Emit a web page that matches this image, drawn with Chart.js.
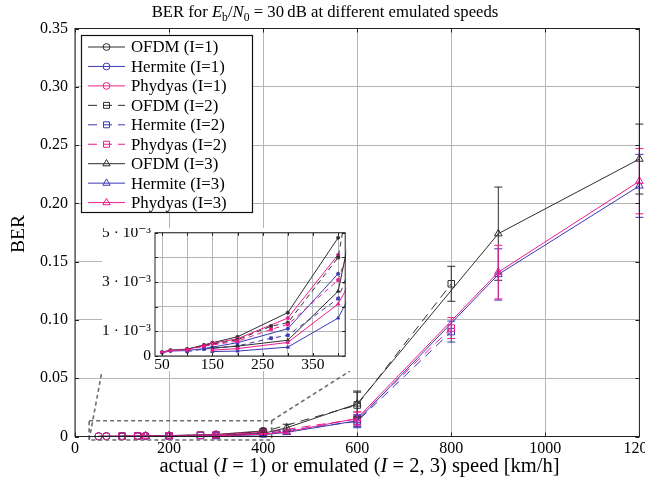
<!DOCTYPE html>
<html><head><meta charset="utf-8">
<script src="https://cdn.jsdelivr.net/npm/chart.js@4.4.0/dist/chart.umd.min.js"></script>
<style>
html,body{margin:0;padding:0;background:#fff;}
#wrap{position:relative;width:645px;height:485px;overflow:hidden;font-family:"Liberation Serif","DejaVu Serif",serif;color:#000;background:#fff;}
#main{position:absolute;left:0;top:0;}
#title{position:absolute;left:0;width:650px;top:2px;text-align:center;font-size:16.7px;white-space:nowrap;}
#xlabel{position:absolute;left:75px;width:569px;top:454px;text-align:center;font-size:20.5px;white-space:nowrap;}
#ylabel{position:absolute;left:18px;top:234px;transform:translate(-50%,-50%) rotate(-90deg);font-size:19.5px;white-space:nowrap;}
#insetBox{position:absolute;left:102px;top:228px;width:248px;height:143px;background:#fff;}
#inset{position:absolute;left:0;top:0;}
sub{font-size:70%;vertical-align:-0.3em;line-height:0;}
</style></head>
<body>
<div id="wrap">
  <canvas id="main" width="645" height="485"></canvas>
  <div id="title">BER for <i>E</i><sub>b</sub>/<i>N</i><sub>0</sub> = 30&#8201;dB at different emulated speeds</div>
  <div id="ylabel">BER</div>
  <div id="xlabel">actual (<i>I</i> = 1) or emulated (<i>I</i> = 2, 3) speed [km/h]</div>
  <div id="insetBox"><canvas id="inset" width="248" height="143"></canvas></div>
</div>
<script>
// ---------------- data ----------------
const speedI1 = [50, 66.7, 100, 133.3, 150, 200, 300, 400];
const speedI2 = [100, 133.3, 200, 266.7, 300, 400, 600, 800];
const speedI3 = [150, 200, 300, 400, 450, 600, 900, 1200];

const berOfdmI1    = [0.00016, 0.00024, 0.00028, 0.00045, 0.00054, 0.00078, 0.00176, 0.00480];
const berHermiteI1 = [0.00013, 0.00020, 0.00022, 0.00030, 0.00036, 0.00054, 0.00111, 0.00334];
const berPhydyasI1 = [0.00015, 0.00022, 0.00026, 0.00043, 0.00051, 0.00070, 0.00154, 0.00411];

const berOfdmI2    = [0.00027, 0.00042, 0.00066, 0.00121, 0.00135, 0.00400, 0.0270, 0.1310];
const berHermiteI2 = [0.00018, 0.00028, 0.00041, 0.00072, 0.00084, 0.00233, 0.0130, 0.0900];
const berPhydyasI2 = [0.00025, 0.00040, 0.00060, 0.00108, 0.00128, 0.00308, 0.0150, 0.0930];

const berOfdmI3    = [0.00032, 0.00040, 0.00064, 0.00263, 0.0075, 0.0280, 0.1740, 0.2380];
const berHermiteI3 = [0.00018, 0.00020, 0.00036, 0.00154, 0.0035, 0.0135, 0.1390, 0.2150];
const berPhydyasI3 = [0.00024, 0.00030, 0.00055, 0.00211, 0.0040, 0.0155, 0.1410, 0.2190];

// symmetric error-bar half widths (BER)
const errOfdmI1    = [0, 0, 0, 0, 0, 0, 0, 0.0006];
const errHermiteI1 = [0, 0, 0, 0, 0, 0, 0, 0.0005];
const errPhydyasI1 = [0, 0, 0, 0, 0, 0, 0, 0.0005];
const errOfdmI2    = [0, 0, 0, 0, 0, 0.0006, 0.0110, 0.0150];
const errHermiteI2 = [0, 0, 0, 0, 0, 0.0005, 0.0055, 0.0090];
const errPhydyasI2 = [0, 0, 0, 0, 0, 0.0005, 0.0060, 0.0090];
const errOfdmI3    = [0, 0, 0, 0.0005, 0.0030, 0.0110, 0.0400, 0.0300];
const errHermiteI3 = [0, 0, 0, 0.0004, 0.0015, 0.0050, 0.0220, 0.0270];
const errPhydyasI3 = [0, 0, 0, 0.0004, 0.0015, 0.0055, 0.0230, 0.0280];

const seriesLabels = ['OFDM (I=1)','Hermite (I=1)','Phydyas (I=1)',
                      'OFDM (I=2)','Hermite (I=2)','Phydyas (I=2)',
                      'OFDM (I=3)','Hermite (I=3)','Phydyas (I=3)'];

const mainXTicks = [0, 200, 400, 600, 800, 1000, 1200];
const mainYTicks = [0, 0.05, 0.10, 0.15, 0.20, 0.25, 0.30, 0.35];
const insetXTicks = [50, 100, 150, 200, 250, 300, 350, 400];
const insetXLabeled = [50, 150, 250, 350];
const insetYTicks = [0, 0.001, 0.002, 0.003, 0.004, 0.005];
const insetYLabels = {0: '0', 0.001: '1 \u00b7 10\u207b\u00b3', 0.003: '3 \u00b7 10\u207b\u00b3', 0.005: '5 \u00b7 10\u207b\u00b3'};

// zoom window on main axes (data coords)
const zoomBoxX = [30, 418];
const zoomBoxY = [-0.003, 0.0135];

// ---------------- styles ----------------
const FONT = '"Liberation Serif", "DejaVu Serif", serif';
const C_OFDM = '#2e2e2e', C_HERM = '#3a3ab2', C_PHY = '#ee1c8c';
const GRID = '#b5b5b5';

const defs = [
  {x: speedI1, y: berOfdmI1,    e: errOfdmI1,    c: C_OFDM, p: 'circle',   d: false},
  {x: speedI1, y: berHermiteI1, e: errHermiteI1, c: C_HERM, p: 'circle',   d: false},
  {x: speedI1, y: berPhydyasI1, e: errPhydyasI1, c: C_PHY,  p: 'circle',   d: false},
  {x: speedI2, y: berOfdmI2,    e: errOfdmI2,    c: C_OFDM, p: 'rect',     d: true},
  {x: speedI2, y: berHermiteI2, e: errHermiteI2, c: C_HERM, p: 'rect',     d: true},
  {x: speedI2, y: berPhydyasI2, e: errPhydyasI2, c: C_PHY,  p: 'rect',     d: true},
  {x: speedI3, y: berOfdmI3,    e: errOfdmI3,    c: C_OFDM, p: 'triangle', d: false},
  {x: speedI3, y: berHermiteI3, e: errHermiteI3, c: C_HERM, p: 'triangle', d: false},
  {x: speedI3, y: berPhydyasI3, e: errPhydyasI3, c: C_PHY,  p: 'triangle', d: false},
];

function radiusFor(p, inset) {
  if (inset) return p === 'circle' ? 1.6 : 2.0;
  return p === 'circle' ? 3.6 : (p === 'rect' ? 4.6 : 4.4);
}

function makeDatasets(inset) {
  return defs.map((d, i) => ({
    label: seriesLabels[i],
    data: d.x.map((x, k) => ({x: x, y: d.y[k]})),
    errors: d.e,
    borderColor: d.c,
    backgroundColor: d.c,
    pointBorderColor: d.c,
    pointBackgroundColor: inset ? d.c : 'rgba(255,255,255,0)',
    pointStyle: d.p,
    pointRadius: radiusFor(d.p, inset),
    pointBorderWidth: inset ? 0.8 : 1,
    borderWidth: 1,
    borderDash: d.d ? (inset ? [5, 4] : [9, 6]) : [],
    tension: 0,
    fill: false,
    clip: inset ? 1 : false,
    order: defs.length - 1 - i
  }));
}

// ---------------- plugins ----------------
const errorBars = {
  id: 'errorBars',
  afterDatasetsDraw(chart) {
    const {ctx, scales: {x, y}} = chart;
    ctx.save();
    chart.data.datasets.forEach((ds) => {
      if (!ds.errors) return;
      ctx.strokeStyle = ds.borderColor;
      ctx.lineWidth = 1;
      ctx.setLineDash([]);
      ds.data.forEach((pt, k) => {
        const e = ds.errors[k];
        if (!e) return;
        const px = x.getPixelForValue(pt.x);
        const yt = y.getPixelForValue(pt.y + e);
        const yb = y.getPixelForValue(pt.y - e);
        ctx.beginPath();
        ctx.moveTo(px, yt); ctx.lineTo(px, yb);
        ctx.moveTo(px - 4, yt); ctx.lineTo(px + 4, yt);
        ctx.moveTo(px - 4, yb); ctx.lineTo(px + 4, yb);
        ctx.stroke();
      });
    });
    ctx.restore();
  }
};

function frameAndTicks(xTicks, yTicks, len) {
  return {
    id: 'frame',
    afterDraw(chart) {
      const {ctx, chartArea: a, scales: {x, y}} = chart;
      ctx.save();
      ctx.setLineDash([]);
      ctx.strokeStyle = '#222';
      ctx.lineWidth = 1;
      ctx.beginPath();
      xTicks.forEach(v => {
        const px = Math.round(x.getPixelForValue(v)) + 0.5;
        ctx.moveTo(px, a.bottom); ctx.lineTo(px, a.bottom - len);
        ctx.moveTo(px, a.top); ctx.lineTo(px, a.top + len);
      });
      yTicks.forEach(v => {
        const py = Math.round(y.getPixelForValue(v)) + 0.5;
        ctx.moveTo(a.left, py); ctx.lineTo(a.left + len, py);
        ctx.moveTo(a.right, py); ctx.lineTo(a.right - len, py);
      });
      ctx.stroke();
      ctx.strokeRect(a.left, a.top, a.right - a.left, a.bottom - a.top);
      ctx.restore();
    }
  };
}

const zoomMarker = {
  id: 'zoomMarker',
  afterDatasetsDraw(chart) {
    const {ctx, scales: {x, y}} = chart;
    const x0 = x.getPixelForValue(zoomBoxX[0]), x1 = x.getPixelForValue(zoomBoxX[1]);
    const y0 = y.getPixelForValue(zoomBoxY[1]), y1 = y.getPixelForValue(zoomBoxY[0]);
    const box = document.getElementById('insetBox');
    const bl = box.offsetLeft, br = box.offsetLeft + box.offsetWidth, bb = box.offsetTop + box.offsetHeight;
    ctx.save();
    ctx.strokeStyle = '#6a6e74';
    ctx.lineWidth = 1.6;
    ctx.setLineDash([4, 3]);
    ctx.strokeRect(x0, y0, x1 - x0, y1 - y0);
    ctx.beginPath();
    ctx.moveTo(x0, y1); ctx.lineTo(bl, bb);
    ctx.moveTo(x1, y0); ctx.lineTo(br, bb);
    ctx.stroke();
    ctx.restore();
  }
};

const boxLegend = {
  id: 'boxLegend',
  afterDraw(chart) {
    const ctx = chart.ctx;
    const left = 81.5, top = 35.5, w = 171, h = 177;
    ctx.save();
    ctx.fillStyle = '#fff';
    ctx.fillRect(left, top, w, h);
    ctx.strokeStyle = '#111';
    ctx.lineWidth = 1.2;
    ctx.setLineDash([]);
    ctx.strokeRect(left, top, w, h);
    chart.data.datasets.forEach((ds, i) => {
      const yc = 47 + i * 19.45;
      ctx.strokeStyle = ds.borderColor;
      ctx.lineWidth = 1;
      ctx.setLineDash(ds.borderDash || []);
      ctx.beginPath(); ctx.moveTo(88, yc); ctx.lineTo(125, yc); ctx.stroke();
      ctx.setLineDash([]);
      ctx.fillStyle = 'rgba(255,255,255,0)';
      ctx.strokeStyle = ds.borderColor;
      Chart.helpers.drawPoint(ctx, {pointStyle: ds.pointStyle, radius: ds.pointStyle === 'circle' ? 3.4 : 4.2, borderWidth: 1, rotation: 0}, 106.5, yc);
      ctx.fillStyle = '#000';
      ctx.font = '16.8px ' + FONT;
      ctx.textBaseline = 'middle';
      ctx.textAlign = 'left';
      ctx.fillText(ds.label, 131, yc + 1);
    });
    ctx.restore();
  }
};

// ---------------- main chart ----------------
const mainCtx = document.getElementById('main').getContext('2d');
const mainChart = new Chart(mainCtx, {
  type: 'line',
  data: {datasets: makeDatasets(false)},
  options: {
    responsive: false, animation: false, devicePixelRatio: 1,
    layout: {padding: {left: 0, right: 1.5, top: 28.5, bottom: 0}},
    plugins: {legend: {display: false}, tooltip: {enabled: false}, title: {display: false}},
    scales: {
      x: {
        type: 'linear', min: 0, max: 1200,
        afterBuildTicks: s => { s.ticks = mainXTicks.map(v => ({value: v})); },
        afterFit: s => { s.height = 48.5; s.paddingLeft = 0; s.paddingRight = 0; },
        ticks: {font: {family: FONT, size: 16}, color: '#000', padding: 3, maxRotation: 0, autoSkip: false,
                callback: v => String(v)},
        grid: {color: GRID, lineWidth: 1, drawTicks: false},
        border: {display: false}
      },
      y: {
        type: 'linear', min: 0, max: 0.35,
        afterBuildTicks: s => { s.ticks = mainYTicks.map(v => ({value: v})); },
        afterFit: s => { s.width = 75; s.paddingTop = 0; s.paddingBottom = 0; },
        ticks: {font: {family: FONT, size: 16}, color: '#000', padding: 7, autoSkip: false,
                callback: v => v === 0 ? '0' : v.toFixed(2)},
        grid: {color: GRID, lineWidth: 1, drawTicks: false},
        border: {display: false}
      }
    }
  },
  plugins: [errorBars, zoomMarker, frameAndTicks(mainXTicks, mainYTicks, 4), boxLegend]
});

// ---------------- inset chart ----------------
const insetCtx = document.getElementById('inset').getContext('2d');
const insetChart = new Chart(insetCtx, {
  type: 'line',
  data: {datasets: makeDatasets(true)},
  options: {
    responsive: false, animation: false, devicePixelRatio: 1,
    layout: {padding: {left: 0, right: 0.5, top: 1, bottom: 0}},
    plugins: {legend: {display: false}, tooltip: {enabled: false}, title: {display: false}},
    scales: {
      x: {
        type: 'linear', min: 36, max: 414,
        afterBuildTicks: s => { s.ticks = insetXTicks.map(v => ({value: v})); },
        afterFit: s => { s.height = 15; s.paddingLeft = 0; s.paddingRight = 0; },
        ticks: {font: {family: FONT, size: 15.5}, color: '#000', padding: 0, maxRotation: 0, autoSkip: false,
                callback: v => insetXLabeled.includes(v) ? String(v) : ''},
        grid: {color: GRID, lineWidth: 1, drawTicks: false},
        border: {display: false}
      },
      y: {
        type: 'linear', min: 0, max: 0.005,
        afterBuildTicks: s => { s.ticks = insetYTicks.map(v => ({value: v})); },
        afterFit: s => { s.width = 53; s.paddingTop = 0; s.paddingBottom = 0; },
        ticks: {font: {family: FONT, size: 15.5}, color: '#000', padding: 4, autoSkip: false,
                callback: v => { const k = Object.keys(insetYLabels).find(t => Math.abs(+t - v) < 1e-9); return k !== undefined ? insetYLabels[k] : ''; }},
        grid: {color: GRID, lineWidth: 1, drawTicks: false},
        border: {display: false}
      }
    }
  },
  plugins: [frameAndTicks(insetXTicks, insetYTicks, 3)]
});
</script>
</body></html>
